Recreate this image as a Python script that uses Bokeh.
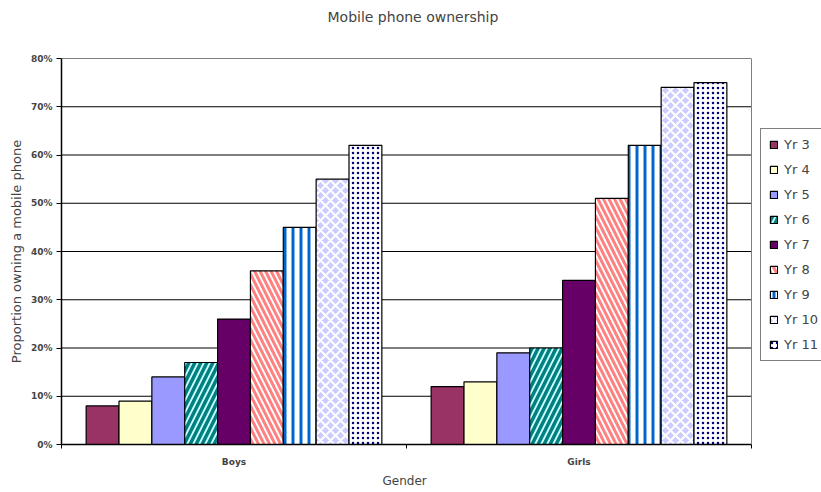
from bokeh.plotting import figure
from bokeh.models import (ColumnDataSource, Range1d, FixedTicker, NumeralTickFormatter,
                          Legend, LegendItem, Span, Title)
from bokeh.transform import dodge
from bokeh.embed import file_html
from bokeh.resources import INLINE

# ---- data ----
categories = ["Boys", "Girls"]
series = ["Yr 3", "Yr 4", "Yr 5", "Yr 6", "Yr 7", "Yr 8", "Yr 9", "Yr 10", "Yr 11"]
boys = [0.08, 0.09, 0.14, 0.17, 0.26, 0.36, 0.45, 0.55, 0.62]
girls = [0.12, 0.13, 0.19, 0.20, 0.34, 0.51, 0.62, 0.74, 0.75]
y_ticks = [0.0, 0.1, 0.2, 0.3, 0.4, 0.5, 0.6, 0.7, 0.8]

# ---- styles ----
fills = ["#993366", "#FFFFCC", "#9999FF", "#CCFFFF", "#660066", "#FFFFFF", "#FFFFFF", "#CCCCFF", "#FFFFFF"]
hatches = [None, None, None, "/", None, "\\", "|", "x", "."]
hatch_colors = [None, None, None, "#008080", None, "#FF8080", "#0066CC", "#FFFFFF", "#000080"]
hatch_scales = [None, None, None, 12, None, 11, 8, 10, 5]
hatch_weights = [None, None, None, 3.5, None, 3, 3, 2, 0.5]

FONT = "DejaVu Sans"

# layout: plot area 690 px wide, plus 70 px strip on the right for the legend
PLOT_W, EXTRA_W = 690, 70
n_cat = len(categories)
x_end = n_cat * (PLOT_W + EXTRA_W) / PLOT_W

p = figure(width=821, height=492,
           x_range=Range1d(0, x_end), y_range=Range1d(0, y_ticks[-1]),
           output_backend="svg", toolbar_location=None,
           min_border_left=61, min_border_right=0, min_border_top=58, min_border_bottom=48)
p.background_fill_color = "white"
p.border_fill_color = "white"
p.outline_line_color = None

# titles (spacer closest to the frame, then the real title)
p.add_layout(Title(text=" ", text_font_size="13px", standoff=17), "above")
p.add_layout(Title(text="Mobile phone ownership", align="left", offset=266,
                   text_font=FONT, text_font_size="14px", text_font_style="normal",
                   standoff=0), "above")

# grid lines limited to the plot area
p.xgrid.visible = False
p.ygrid.visible = False
p.segment(x0=0, x1=n_cat, y0=y_ticks, y1=y_ticks, line_color="black", line_width=1)
p.add_layout(Span(location=n_cat, dimension="height", line_color="#808080", line_width=1))

n = len(series)
w = 1.0 / (n + 1.5)
cat_pos = [i + 0.5 for i in range(n_cat)]

items = []
for i, s in enumerate(series):
    src = ColumnDataSource(dict(x=cat_pos, cat=categories, top=[boys[i], girls[i]]))
    kw = dict(fill_color=fills[i], line_color="black", line_width=1.2)
    if hatches[i]:
        kw.update(hatch_pattern=hatches[i], hatch_color=hatch_colors[i],
                  hatch_scale=hatch_scales[i], hatch_weight=hatch_weights[i])
    r = p.vbar(x=dodge("x", (i - (n - 1) / 2) * w, range=p.x_range), top="top", bottom=0,
               width=w, source=src, **kw)
    items.append(LegendItem(label=s, renderers=[r]))

# y axis
ya = p.yaxis[0]
ya.ticker = FixedTicker(ticks=y_ticks)
ya.formatter = NumeralTickFormatter(format="0%")
ya.axis_label = "Proportion owning a mobile phone"
ya.axis_label_text_font = FONT
ya.axis_label_text_font_size = "13px"
ya.axis_label_text_font_style = "normal"
ya.axis_label_standoff = 4
ya.major_label_text_font = FONT
ya.major_label_text_font_size = "9px"
ya.major_label_text_font_style = "bold"
ya.major_label_standoff = 4
ya.major_tick_in = 0
ya.major_tick_out = 5
ya.minor_tick_line_color = None
ya.axis_line_color = "black"
ya.axis_line_width = 1.5

# x axis
xa = p.xaxis[0]
xa.bounds = (0, n_cat)
xa.ticker = FixedTicker(ticks=cat_pos, minor_ticks=list(range(n_cat + 1)))
xa.major_label_overrides = {cat_pos[j]: categories[j] for j in range(n_cat)}
xa.major_tick_line_color = None
xa.minor_tick_in = 0
xa.minor_tick_out = 4
xa.major_label_text_font = FONT
xa.major_label_text_font_size = "9px"
xa.major_label_text_font_style = "bold"
xa.major_label_standoff = 6
xa.axis_line_color = "black"
xa.axis_line_width = 1.5

p.add_layout(Title(text="Gender", align="left", offset=321,
                   text_font=FONT, text_font_size="12px", text_font_style="normal",
                   standoff=4), "below")

legend = Legend(items=items, location=(699, 83))
legend.label_text_font = FONT
legend.label_text_font_size = "13px"
legend.glyph_width = 9
legend.glyph_height = 9
legend.label_height = 14
legend.label_standoff = 6
legend.spacing = 10
legend.padding = 8
legend.margin = 0
legend.border_line_color = "black"
legend.border_line_width = 1
legend.background_fill_color = "white"
legend.background_fill_alpha = 1
p.add_layout(legend)

open("out.html", "w").write(file_html(p, INLINE))
